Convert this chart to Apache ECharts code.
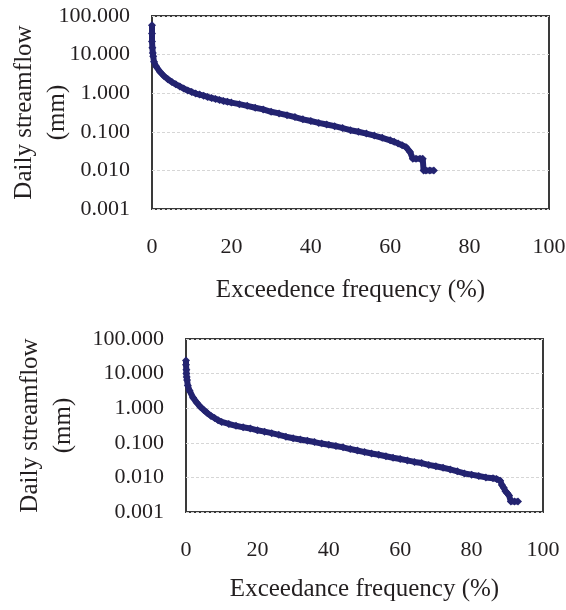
<!DOCTYPE html>
<html>
<head>
<meta charset="utf-8">
<script src="https://cdn.jsdelivr.net/npm/echarts@6/dist/echarts.min.js"></script>
<style>
  html, body { margin: 0; padding: 0; background: #fff; }
  #main { width: 566px; height: 610px; }
</style>
</head>
<body>
<div id="main"></div>
<script type="text/javascript">
    // top panel: exceedence frequency (%) and daily streamflow (mm)
    var freqTop = [0, 0, 0, 0.1, 0.2, 0.3, 0.5, 1, 2, 3, 4, 5, 6, 7, 8, 9, 10, 11, 12, 13, 14, 15, 16, 17, 18, 19, 20,
        22, 24, 26, 28, 30, 32, 34, 36, 38, 40, 42, 44, 46, 48, 50, 52, 54, 56, 58, 60, 61, 62, 63, 64, 65,
        65.7, 66.5, 67.5, 68.2, 68.4, 69, 70, 71];
    var flowTop = [58, 35, 22, 15, 11, 9, 6.5, 5.0, 3.6, 2.8, 2.3, 1.95, 1.7, 1.5, 1.32, 1.18, 1.08, 0.98, 0.92, 0.86, 0.80, 0.75, 0.71, 0.67, 0.63, 0.60, 0.57,
        0.52, 0.47, 0.42, 0.38, 0.33, 0.30, 0.27, 0.24, 0.21, 0.19, 0.17, 0.155, 0.14, 0.125, 0.11, 0.10, 0.09, 0.08, 0.07, 0.06, 0.055, 0.05, 0.045, 0.04, 0.03,
        0.02, 0.02, 0.02, 0.02, 0.01, 0.01, 0.01, 0.01];

    // bottom panel
    var freqBottom = [0, 0, 0.1, 0.1, 0.2, 0.3, 0.5, 1, 2, 3, 4, 5, 6, 7, 8, 9, 10, 12, 14, 16, 18, 20, 22, 24, 26, 28, 30,
        32, 34, 36, 38, 40, 42, 44, 46, 48, 50, 52, 54, 56, 58, 60, 62, 64, 66, 68, 70, 72, 74, 76, 78, 80,
        82, 84, 86, 87, 88, 88.5, 89, 89.5, 90, 90.5, 91, 92, 93];
    var flowBottom = [24, 18, 13, 10, 8, 6.5, 4.5, 3.2, 2.0, 1.45, 1.1, 0.88, 0.72, 0.60, 0.52, 0.45, 0.40, 0.35, 0.31, 0.28, 0.26, 0.23, 0.21, 0.19, 0.17, 0.15, 0.135,
        0.125, 0.115, 0.105, 0.095, 0.088, 0.081, 0.074, 0.066, 0.060, 0.054, 0.049, 0.045, 0.041, 0.037, 0.034, 0.031, 0.028, 0.026, 0.023, 0.021, 0.019, 0.017, 0.015, 0.013, 0.012,
        0.011, 0.010, 0.0095, 0.009, 0.008, 0.006, 0.005, 0.004, 0.0035, 0.003, 0.002, 0.002, 0.002];

    var xTicks = [0, 20, 40, 60, 80, 100];
    var yTicks = [0.001, 0.01, 0.1, 1, 10, 100];

    function pairs(xs, ys) {
        var out = [];
        for (var i = 0; i < xs.length; i++) out.push([xs[i], ys[i]]);
        return out;
    }

    var font = '"Liberation Serif", "DejaVu Serif", serif';
    var ink = '#231f20';
    var navy = '#232370';

    function xAxisFor(idx, name, gap) {
        return {
            gridIndex: idx,
            type: 'value',
            min: xTicks[0],
            max: xTicks[xTicks.length - 1],
            interval: 20,
            name: name,
            nameLocation: 'middle',
            nameGap: gap,
            nameMoveOverlap: false,
            nameTextStyle: { fontFamily: font, fontSize: 25, color: ink },
            axisLine: { show: false },
            axisTick: { show: false },
            splitLine: { show: false },
            axisLabel: { fontFamily: font, fontSize: 22, color: ink, margin: 27 }
        };
    }

    function yAxisFor(idx, gap) {
        return {
            gridIndex: idx,
            type: 'log',
            logBase: 10,
            min: yTicks[0],
            max: yTicks[yTicks.length - 1],
            name: 'Daily streamflow\n(mm)',
            nameLocation: 'middle',
            nameGap: gap,
            nameRotate: 90,
            nameMoveOverlap: false,
            nameTextStyle: { fontFamily: font, fontSize: 25, color: ink, lineHeight: 33, align: 'center' },
            axisLine: { show: false },
            axisTick: { show: false },
            splitLine: { show: true, lineStyle: { color: '#d6d6d6', type: [3, 2], width: 1 } },
            axisLabel: {
                fontFamily: font, fontSize: 22, color: ink, margin: 22,
                formatter: function (v) { return Number(v).toFixed(3); }
            }
        };
    }

    function seriesFor(idx, data) {
        return {
            type: 'line',
            xAxisIndex: idx,
            yAxisIndex: idx,
            data: data,
            showAllSymbol: true,
            symbol: 'diamond',
            symbolSize: 8,
            itemStyle: { color: navy },
            lineStyle: { color: navy, width: 6 },
            animation: false
        };
    }

    var chart = echarts.init(document.getElementById('main'));
    chart.setOption({
        backgroundColor: '#fff',
        animation: false,
        grid: [
            { left: 152, top: 16, width: 397, height: 193, show: true, borderColor: '#3a3a3a', borderWidth: 2, backgroundColor: 'transparent', containLabel: false, outerBoundsMode: 'none' },
            { left: 186, top: 339, width: 357, height: 173, show: true, borderColor: '#3a3a3a', borderWidth: 2, backgroundColor: 'transparent', containLabel: false, outerBoundsMode: 'none' }
        ],
        xAxis: [
            xAxisFor(0, 'Exceedence frequency (%)', 69),
            xAxisFor(1, 'Exceedance frequency (%)', 65)
        ],
        yAxis: [
            yAxisFor(0, 78),
            yAxisFor(1, 106)
        ],
        series: [
            seriesFor(0, pairs(freqTop, flowTop)),
            seriesFor(1, pairs(freqBottom, flowBottom))
        ]
    });
</script>
</body>
</html>
